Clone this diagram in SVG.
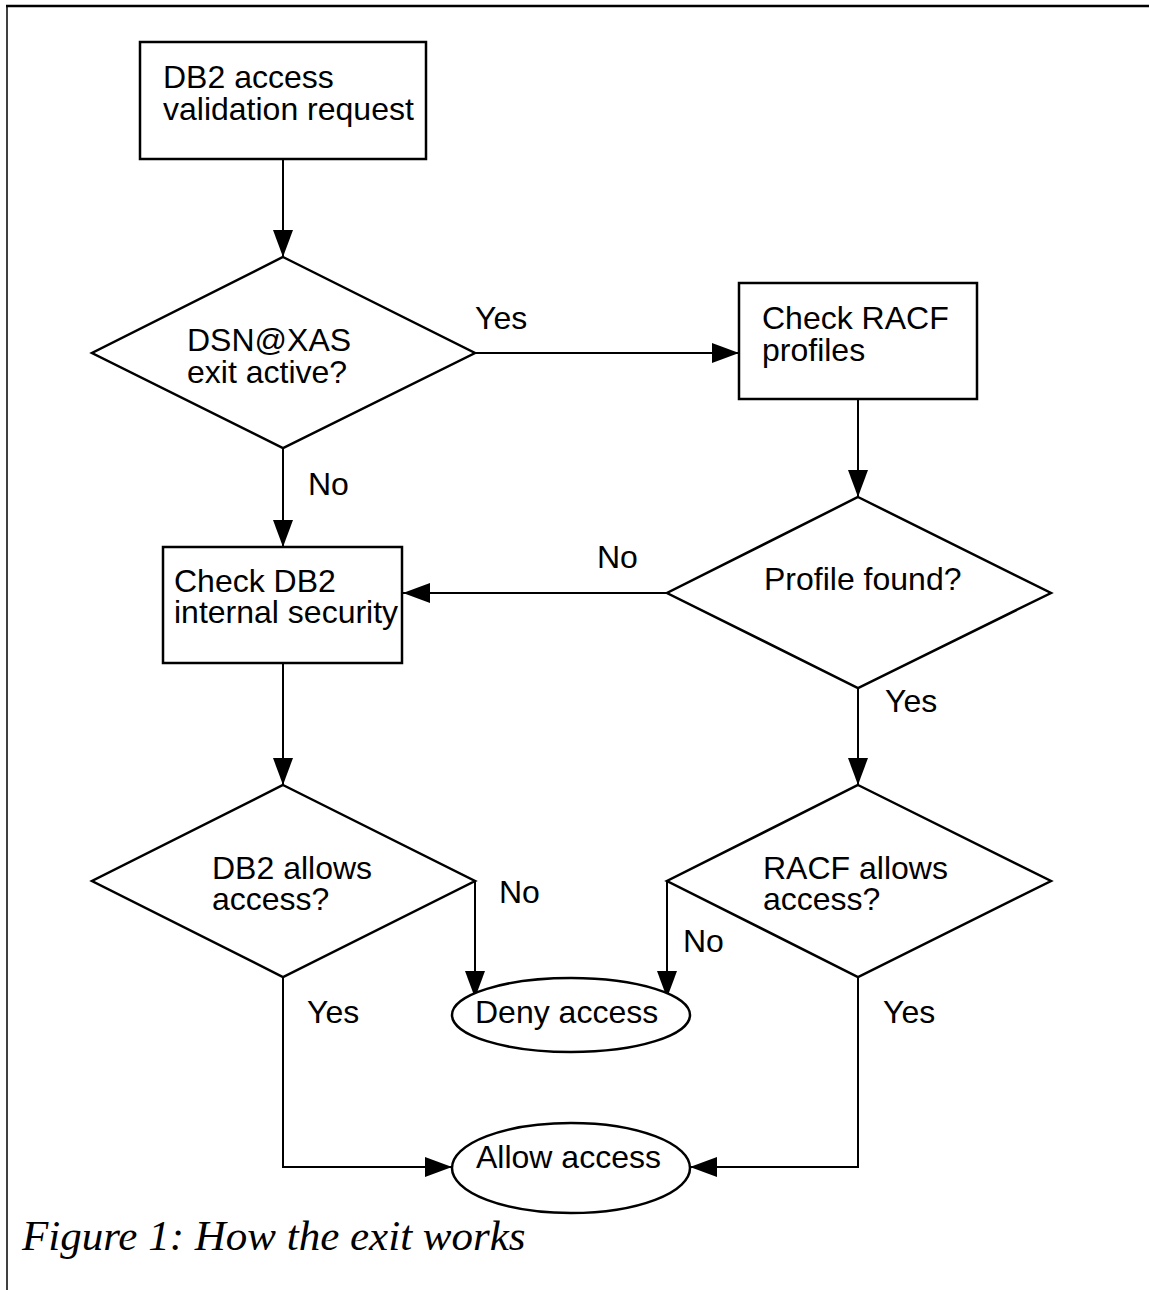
<svg xmlns="http://www.w3.org/2000/svg" width="1149" height="1290" viewBox="0 0 1149 1290">
<style>
.shape{fill:#fff;stroke:#000;stroke-width:2.5}
.conn{fill:none;stroke:#000;stroke-width:2}
.t{font-family:"Liberation Sans",Arial,sans-serif;font-size:32px;fill:#000}
.cap{font-family:"Liberation Serif","Times New Roman",serif;font-style:italic;font-size:43px;fill:#000}
</style>
<defs>
<marker id="arr" markerUnits="userSpaceOnUse" markerWidth="27" markerHeight="20" refX="27" refY="10" orient="auto">
<path d="M0,0 L27,10 L0,20 Z" fill="#000"/>
</marker>
</defs>
<rect width="1149" height="1290" fill="#fff"/>
<g id="frame">
<line x1="6" y1="6" x2="1149" y2="6" stroke="#000" stroke-width="2.5"/>
<line x1="7" y1="6" x2="7" y2="1290" stroke="#000" stroke-width="1.5"/>
</g>
<g id="connectors">
<line class="conn" x1="283" y1="159" x2="283" y2="257" marker-end="url(#arr)"/>
<line class="conn" x1="475" y1="353" x2="739" y2="353" marker-end="url(#arr)"/>
<line class="conn" x1="858" y1="399" x2="858" y2="497" marker-end="url(#arr)"/>
<line class="conn" x1="283" y1="448" x2="283" y2="547" marker-end="url(#arr)"/>
<line class="conn" x1="667" y1="593" x2="403" y2="593" marker-end="url(#arr)"/>
<line class="conn" x1="858" y1="688" x2="858" y2="785" marker-end="url(#arr)"/>
<line class="conn" x1="283" y1="663" x2="283" y2="785" marker-end="url(#arr)"/>
<polyline class="conn" points="475,881 475,998" marker-end="url(#arr)"/>
<polyline class="conn" points="667,881 667,998" marker-end="url(#arr)"/>
<polyline class="conn" points="283,977 283,1167 452,1167" marker-end="url(#arr)"/>
<polyline class="conn" points="858,977 858,1167 690,1167" marker-end="url(#arr)"/>
<text class="t" x="475" y="329">Yes</text>
<text class="t" x="308" y="495">No</text>
<text class="t" x="597" y="568">No</text>
<text class="t" x="885" y="712">Yes</text>
<text class="t" x="499" y="903">No</text>
<text class="t" x="683" y="952">No</text>
<text class="t" x="307" y="1023">Yes</text>
<text class="t" x="883" y="1023">Yes</text>
</g>
<g id="start">
<rect class="shape" x="140" y="42" width="286" height="117"/>
<text class="t" x="163" y="88">DB2 access</text>
<text class="t" x="163" y="120">validation request</text>
</g>
<g id="exitActive">
<polygon class="shape" points="283,257 475,353 283,448 92,353"/>
<text class="t" x="187" y="351">DSN@XAS</text>
<text class="t" x="187" y="383">exit active?</text>
</g>
<g id="checkRacf">
<rect class="shape" x="739" y="283" width="238" height="116"/>
<text class="t" x="762" y="329">Check RACF</text>
<text class="t" x="762" y="361">profiles</text>
</g>
<g id="profileFound">
<polygon class="shape" points="858,497 1051,593 858,688 667,593"/>
<text class="t" x="764" y="590">Profile found?</text>
</g>
<g id="checkDb2">
<rect class="shape" x="163" y="547" width="239" height="116"/>
<text class="t" x="174" y="592">Check DB2</text>
<text class="t" x="174" y="623">internal security</text>
</g>
<g id="db2Allows">
<polygon class="shape" points="283,785 475,881 283,977 92,881"/>
<text class="t" x="212" y="879">DB2 allows</text>
<text class="t" x="212" y="910">access?</text>
</g>
<g id="racfAllows">
<polygon class="shape" points="858,785 1051,881 858,977 667,881"/>
<text class="t" x="763" y="879">RACF allows</text>
<text class="t" x="763" y="910">access?</text>
</g>
<g id="deny">
<ellipse class="shape" cx="571" cy="1015" rx="119" ry="37"/>
<text class="t" x="475" y="1023">Deny access</text>
</g>
<g id="allow">
<ellipse class="shape" cx="571" cy="1168" rx="119" ry="45"/>
<text class="t" x="476" y="1168">Allow access</text>
</g>
<text class="cap" x="22" y="1250">Figure 1: How the exit works</text>
</svg>
